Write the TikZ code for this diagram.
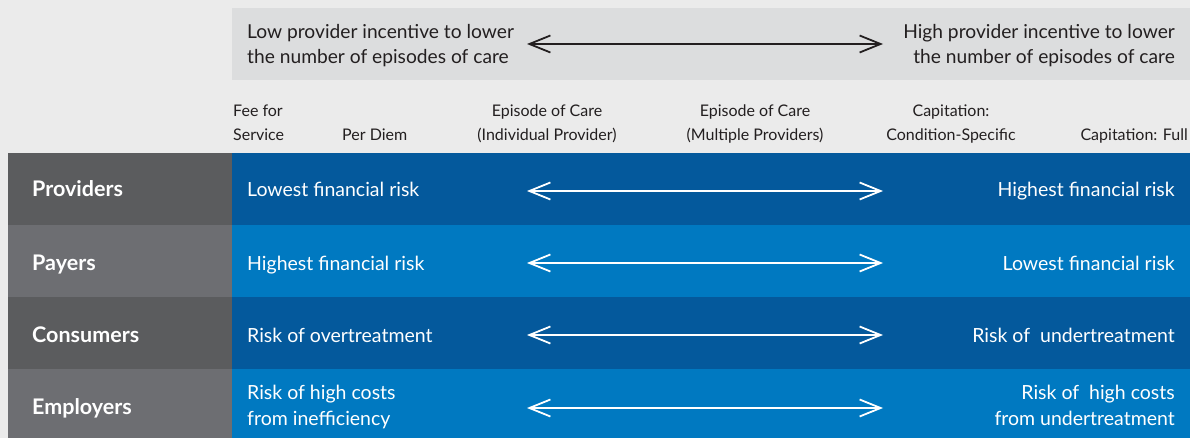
\documentclass[tikz,border=0pt]{standalone}
\usepackage{fontspec}
\setmainfont{Lato}
\usetikzlibrary{arrows.meta}
\definecolor{bgc}{HTML}{EBEBEB}
\definecolor{topbox}{HTML}{DCDDDE}
\definecolor{gdark}{HTML}{5B5C5E}
\definecolor{glight}{HTML}{6D6E72}
\definecolor{bdark}{HTML}{04599C}
\definecolor{blight}{HTML}{0079C1}
\definecolor{ink}{HTML}{231F20}
\tikzset{
  rowtxt/.style={text=white, font=\fontsize{19.5}{26}\selectfont, inner sep=0pt, align=left},
  rowtxtR/.style={rowtxt, align=right},
  rowlab/.style={text=white, font=\fontsize{21.5}{26}\selectfont\bfseries, inner sep=0pt},
  coltxt/.style={text=ink, font=\fontsize{16}{24}\selectfont, inner sep=0pt},
  toptxt/.style={text=ink, font=\fontsize{19.2}{25}\selectfont, inner sep=0pt},
  barb/.tip={Straight Barb[length=21pt,width=17pt,line width=1.8pt]},
  warrow/.style={white, line width=1.8pt, barb-barb},
  karrow/.style={ink, line width=1.8pt, barb-barb},
}
\begin{document}
\begin{tikzpicture}[x=1pt,y=-1pt]
\fill[bgc] (0,0) rectangle (1190,438);
\useasboundingbox (0,0) rectangle (1190,438);
% top box
\fill[topbox] (232,8) rectangle (1190,80);
% left column
\fill[gdark]  (8,153) rectangle (232,225);
\fill[glight] (8,225) rectangle (232,297);
\fill[gdark]  (8,297) rectangle (232,369);
\fill[glight] (8,369) rectangle (232,438);
% blue rows
\fill[bdark]  (232,153) rectangle (1190,225);
\fill[blight] (232,225) rectangle (1190,297);
\fill[bdark]  (232,297) rectangle (1190,369);
\fill[blight] (232,369) rectangle (1190,438);

% top texts (base = last line)
\node[toptxt, anchor=base west, align=left] (lowinc) at (247,64) {Low provider incentive to lower\\the number of episodes of care};
\node[toptxt, anchor=base east, align=right] (highinc) at (1175,64) {High provider incentive to lower\\the number of episodes of care};
\coordinate (ta) at (527,44);
\coordinate (tb) at (883,44);
\draw[karrow] (ta) -- (tb);

% column headers
\node[coltxt, anchor=base west, align=left] (c1) at (233,141) {Fee for\\Service};
\node[coltxt, anchor=base west] (c2) at (342,141) {Per Diem};
\node[coltxt, anchor=base, align=center] (c3) at (547,141) {Episode of Care\\(Individual Provider)};
\node[coltxt, anchor=base, align=center] (c4) at (755,141) {Episode of Care\\(Multiple Providers)};
\node[coltxt, anchor=base, align=center] (c5) at (951,141) {Capitation:\\Condition-Specific};
\node[coltxt, anchor=base east] (c6) at (1188,141) {Capitation: Full};

% row labels
\node[rowlab, anchor=base west] (l1) at (32,197) {Providers};
\node[rowlab, anchor=base west] (l2) at (32,270) {Payers};
\node[rowlab, anchor=base west] (l3) at (32,342) {Consumers};
\node[rowlab, anchor=base west] (l4) at (32,414) {Employers};

% row texts
\node[rowtxt, anchor=base west] (r1a) at (247,197) {Lowest financial risk};
\node[rowtxtR, anchor=base east] (r1b) at (1175,197) {Highest financial risk};
\node[rowtxt, anchor=base west] (r2a) at (247,270) {Highest financial risk};
\node[rowtxtR, anchor=base east] (r2b) at (1175,270) {Lowest financial risk};
\node[rowtxt, anchor=base west] (r3a) at (247,342) {Risk of overtreatment};
\node[rowtxtR, anchor=base east] (r3b) at (1175,342) {Risk of\hspace{5pt} undertreatment};
\node[rowtxt, anchor=base west] (r4a) at (247,425) {Risk of high costs\\from inefficiency};
\node[rowtxtR, anchor=base east] (r4b) at (1175,425) {Risk of\hspace{5pt} high costs\\from undertreatment};

% row arrows
\foreach \i/\y in {1/191,2/263,3/335,4/408}{
  \coordinate (a\i) at (527,\y);
  \coordinate (b\i) at (883,\y);
  \draw[warrow] (a\i) -- (b\i);
}
\end{tikzpicture}
\end{document}
